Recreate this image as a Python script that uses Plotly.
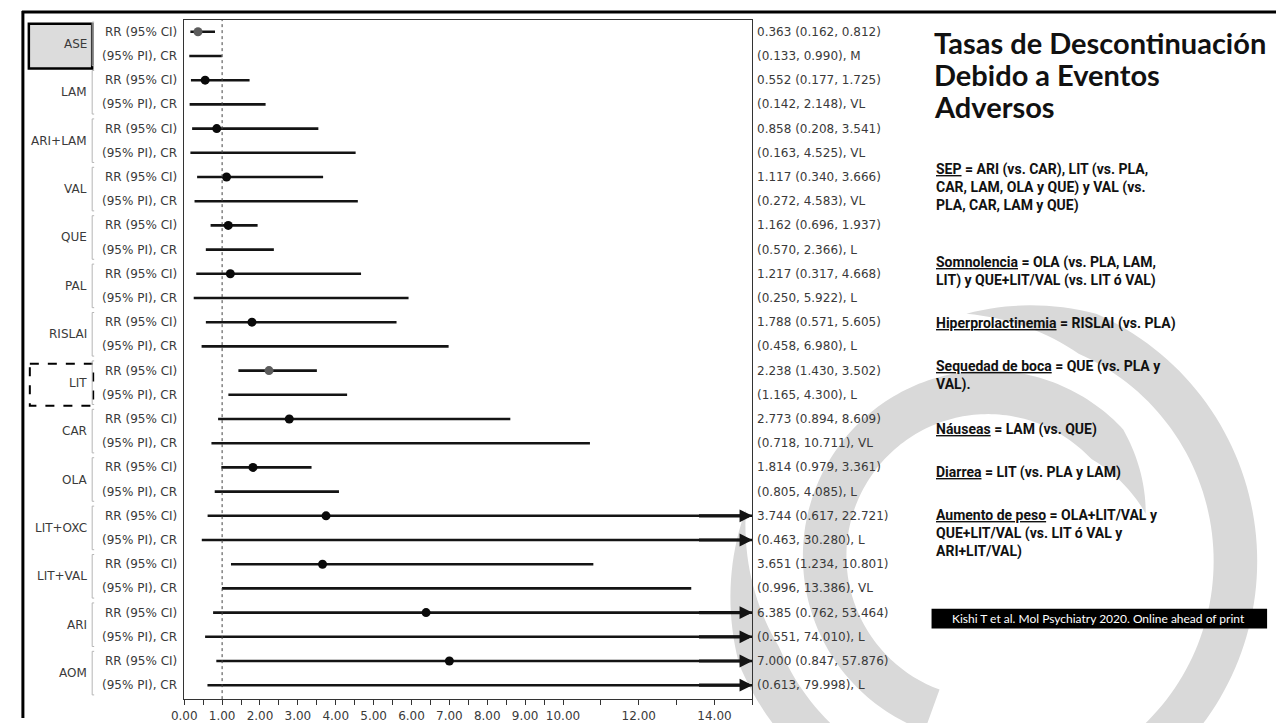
import math
import plotly.graph_objects as go

W, H = 1276, 723

# ---- data ----
drugs = ["ASE", "LAM", "ARI+LAM", "VAL", "QUE", "PAL", "RISLAI", "LIT",
         "CAR", "OLA", "LIT+OXC", "LIT+VAL", "ARI", "AOM"]
rr = [0.363, 0.552, 0.858, 1.117, 1.162, 1.217, 1.788, 2.238,
      2.773, 1.814, 3.744, 3.651, 6.385, 7.000]
ci_low = [0.162, 0.177, 0.208, 0.340, 0.696, 0.317, 0.571, 1.430,
          0.894, 0.979, 0.617, 1.234, 0.762, 0.847]
ci_high = [0.812, 1.725, 3.541, 3.666, 1.937, 4.668, 5.605, 3.502,
           8.609, 3.361, 22.721, 10.801, 53.464, 57.876]
pi_low = [0.133, 0.142, 0.163, 0.272, 0.570, 0.250, 0.458, 1.165,
          0.718, 0.805, 0.463, 0.996, 0.551, 0.613]
pi_high = [0.990, 2.148, 4.525, 4.583, 2.366, 5.922, 6.980, 4.300,
           10.711, 4.085, 30.280, 13.386, 74.010, 79.998]
certainty = ["M", "VL", "VL", "VL", "L", "L", "L", "L",
             "VL", "L", "L", "VL", "L", "L"]
highlight_solid = "ASE"
highlight_dashed = "LIT"

x_labelled_ticks = [0, 1, 2, 3, 4, 5, 6, 7, 8, 9, 10, 12, 14]
x_max = 15

row_label_ci = "RR (95% CI)"
row_label_pi = "(95% PI), CR"

title_lines = ["Tasas de Descontinuación", "Debido a Eventos", "Adversos"]
notes = [
    ["<u>SEP</u> = ARI (vs. CAR), LIT (vs. PLA,", "CAR, LAM, OLA y QUE) y VAL (vs.", "PLA, CAR, LAM y QUE)"],
    ["<u>Somnolencia</u> = OLA (vs. PLA, LAM,", "LIT) y QUE+LIT/VAL (vs. LIT ó VAL)"],
    ["<u>Hiperprolactinemia</u> = RISLAI (vs. PLA)"],
    ["<u>Sequedad de boca</u> = QUE (vs. PLA y", "VAL)."],
    ["<u>Náuseas</u> = LAM (vs. QUE)"],
    ["<u>Diarrea</u> = LIT (vs. PLA y LAM)"],
    ["<u>Aumento de peso</u> = OLA+LIT/VAL y", "QUE+LIT/VAL (vs. LIT ó VAL y", "ARI+LIT/VAL)"],
]
note_top_px = [171, 264, 326, 369, 432, 476, 519]
citation = "Kishi T et al. Mol Psychiatry 2020. Online ahead of print"

# ---- layout geometry (pixels) ----
PLOT_L, PLOT_R, PLOT_T, PLOT_B = 173, 747, 20, 704
ROW0_PX, ROW_STEP = 32, 24.37
n_rows = 2 * len(drugs)
y_top = -(ROW0_PX - PLOT_T) / ROW_STEP
y_bot = (n_rows - 1) + (PLOT_B - (ROW0_PX + (n_rows - 1) * ROW_STEP)) / ROW_STEP


def px(x):
    return x / W


def py(y):
    return 1 - y / H


LABEL_FONT = dict(family="DejaVu Sans", size=12, color="#3a3a3a")
LINE_COLOR = "#141414"

fig = go.Figure()

# interval lines (clipped at the axis end, arrows added where they run past it)
lx, ly = [], []
arrows = []
for i in range(len(drugs)):
    for k, (lo, hi) in enumerate([(ci_low[i], ci_high[i]), (pi_low[i], pi_high[i])]):
        row = 2 * i + k
        lx += [lo, min(hi, x_max), None]
        ly += [row, row, None]
        if hi > x_max:
            arrows.append(row)

fig.add_trace(go.Scatter(x=lx, y=ly, mode="lines",
                         line=dict(color=LINE_COLOR, width=2.6),
                         hoverinfo="skip", showlegend=False))

marker_colors = ["#5c5c5c" if d in (highlight_solid, highlight_dashed) else "#0a0a0a" for d in drugs]
fig.add_trace(go.Scatter(x=rr, y=[2 * i for i in range(len(drugs))], mode="markers",
                         marker=dict(size=9, color=marker_colors),
                         hoverinfo="skip", showlegend=False))

annotations = []
for row in arrows:
    annotations.append(dict(x=x_max, y=row, ax=x_max - 1.45, ay=row,
                            xref="x", yref="y", axref="x", ayref="y",
                            text="", showarrow=True, arrowhead=2, arrowsize=0.8,
                            arrowwidth=3.2, arrowcolor=LINE_COLOR, standoff=0))

# row labels, drug names and value columns
for i, d in enumerate(drugs):
    r_ci, r_pi = 2 * i, 2 * i + 1
    annotations.append(dict(x=px(168), y=r_ci, xref="paper", yref="y", text=row_label_ci,
                            showarrow=False, xanchor="right", yanchor="middle", font=LABEL_FONT))
    annotations.append(dict(x=px(168), y=r_pi, xref="paper", yref="y", text=row_label_pi,
                            showarrow=False, xanchor="right", yanchor="middle", font=LABEL_FONT))
    annotations.append(dict(x=px(77), y=r_ci + 0.5, xref="paper", yref="y", text=d,
                            showarrow=False, xanchor="right", yanchor="middle", font=LABEL_FONT))
    annotations.append(dict(x=px(750), y=r_ci, xref="paper", yref="y",
                            text=f"{rr[i]:.3f} ({ci_low[i]:.3f}, {ci_high[i]:.3f})",
                            showarrow=False, xanchor="left", yanchor="middle", font=LABEL_FONT))
    annotations.append(dict(x=px(750), y=r_pi, xref="paper", yref="y",
                            text=f"({pi_low[i]:.3f}, {pi_high[i]:.3f}), {certainty[i]}",
                            showarrow=False, xanchor="left", yanchor="middle", font=LABEL_FONT))

# title and notes on the right
for j, t in enumerate(title_lines):
    annotations.append(dict(x=px(928), y=py(43 + 32 * j), xref="paper", yref="paper",
                            text=f"<b>{t}</b>", showarrow=False, xanchor="left", yanchor="middle",
                            font=dict(family="Lato", size=29, color="#111")))
for block, top in zip(notes, note_top_px):
    for j, t in enumerate(block):
        annotations.append(dict(x=px(930), y=py(top + 18 * j), xref="paper", yref="paper",
                                text=f"<b>{t}</b>", showarrow=False, xanchor="left", yanchor="middle",
                                font=dict(family="Roboto", size=14, color="#111")))
annotations.append(dict(x=px(1097), y=py(623), xref="paper", yref="paper", text=citation,
                        showarrow=False, xanchor="center", yanchor="middle",
                        font=dict(family="Lato", size=12, color="white")))

shapes = []


def band_path(cx, cy, r, a0, a1, t_max, taper0=0.2, taper1=0.0, n=160):
    """Closed path for a thick arc, optionally tapering to a point at either end."""
    outer, inner = [], []
    for s in range(n + 1):
        f = s / n
        a = math.radians(a0 + (a1 - a0) * f)
        g = 1.0
        if taper0 > 0:
            g = min(g, f / taper0)
        if taper1 > 0:
            g = min(g, (1 - f) / taper1)
        t = t_max * max(g, 0.0)
        ro, ri = r + t / 2, r - t / 2
        outer.append((cx + ro * math.cos(a), cy - ro * math.sin(a)))
        inner.append((cx + ri * math.cos(a), cy - ri * math.sin(a)))
    pts = outer + inner[::-1]
    return "M " + " L ".join(f"{px(x):.5f},{py(y):.5f}" for x, y in pts) + " Z"


# light grey watermark arcs
WATERMARK = "#d9d9d9"
shapes.append(dict(type="path", xref="paper", yref="paper", layer="below",
                   path=band_path(985, 565, 250, 168, 455, 44, taper0=0.12, taper1=0.1),
                   fillcolor=WATERMARK, line=dict(width=0)))
shapes.append(dict(type="path", xref="paper", yref="paper", layer="below",
                   path=band_path(985, 560, 165, 250, 15, 44, taper0=0.0, taper1=0.12),
                   fillcolor=WATERMARK, line=dict(width=0)))

# outer frame (top and left edges)
shapes.append(dict(type="line", xref="paper", yref="paper", x0=px(9), x1=1, y0=py(12), y1=py(12),
                   line=dict(color="black", width=3)))
shapes.append(dict(type="line", xref="paper", yref="paper", x0=px(10), x1=px(10), y0=py(11), y1=0,
                   line=dict(color="black", width=3)))

# reference line at RR = 1
shapes.append(dict(type="line", xref="x", yref="paper", x0=1, x1=1, y0=py(PLOT_B), y1=py(PLOT_T),
                   line=dict(color="#444", width=1, dash="dot")))

# highlighted drug boxes
shapes.append(dict(type="rect", xref="paper", yref="y", x0=px(16), x1=px(80), y0=-0.33, y1=1.52,
                   fillcolor="#dcdcdc", line=dict(color="black", width=2.5), layer="below"))
shapes.append(dict(type="rect", xref="paper", yref="y", x0=px(17), x1=px(81), y0=13.72, y1=15.45,
                   fillcolor="rgba(0,0,0,0)", line=dict(color="black", width=2, dash="dash")))

# brackets grouping each pair of rows
for i in range(len(drugs)):
    y0, y1 = 2 * i - 0.4, 2 * i + 1.4
    shapes.append(dict(type="path", xref="paper", yref="y",
                       path=f"M {px(82)},{y0} L {px(80)},{y0} L {px(80)},{y1} L {px(82)},{y1}",
                       line=dict(color="#b5b5b5", width=1)))

# citation bar
shapes.append(dict(type="rect", xref="paper", yref="paper", x0=px(928), x1=px(1267),
                   y0=py(633), y1=py(613), fillcolor="black", line=dict(width=0)))

tickvals = [v / 2 for v in range(0, 21)] + [11, 12, 13, 14, 15]
ticktext = [f"{v:.2f}" if v in x_labelled_ticks else "" for v in tickvals]

fig.update_layout(
    width=W, height=H,
    margin=dict(l=0, r=0, t=0, b=0),
    paper_bgcolor="white", plot_bgcolor="rgba(0,0,0,0)",
    showlegend=False,
    xaxis=dict(domain=[px(PLOT_L), px(PLOT_R)], range=[0, x_max],
               tickvals=tickvals, ticktext=ticktext, ticks="outside", ticklen=5,
               tickcolor="#333", tickwidth=1, showgrid=False, zeroline=False,
               showline=True, mirror=True, linecolor="#333", linewidth=1,
               tickfont=dict(family="DejaVu Sans", size=12, color="#3a3a3a")),
    yaxis=dict(domain=[py(PLOT_B), py(PLOT_T)], range=[y_bot, y_top],
               showticklabels=False, ticks="", showgrid=False, zeroline=False,
               showline=True, mirror=True, linecolor="#333", linewidth=1),
    annotations=annotations,
    shapes=shapes,
)

fig.write_html("out.html")
